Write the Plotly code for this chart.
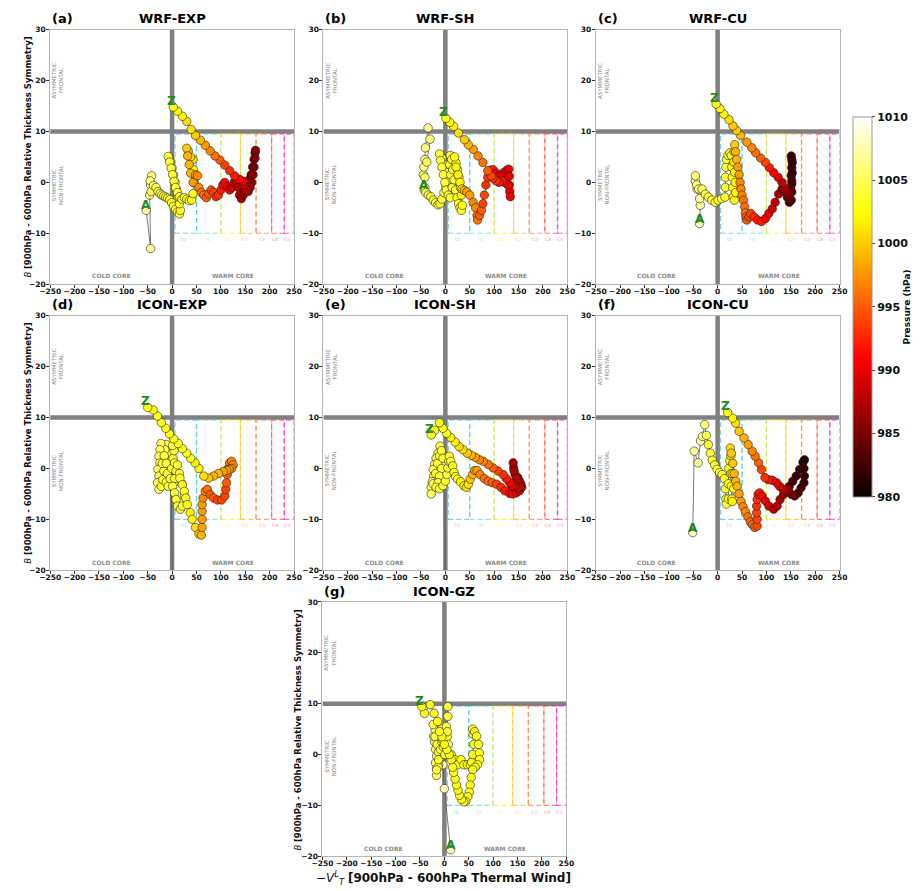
import plotly.graph_objects as go

W, H = 922, 891

# ---------------- data ----------------
PANEL_NAMES = ["WRF-EXP", "WRF-SH", "WRF-CU", "ICON-EXP", "ICON-SH", "ICON-CU", "ICON-GZ"]
PANEL_TAGS = ["(a)", "(b)", "(c)", "(d)", "(e)", "(f)", "(g)"]

X_TICKS = [-250, -200, -150, -100, -50, 0, 50, 100, 150, 200, 250]
Y_TICKS = [-20, -10, 0, 10, 20, 30]
P_TICKS = [980, 985, 990, 995, 1000, 1005, 1010]

BOX_NAMES = ["TD", "TS", "C1", "C2", "C3", "C4", "C5"]
BOX_EDGES = [6, 50, 100, 140, 172, 204, 230, 250]
BOX_LABEL_X = [23, 70, 115, 150, 184, 210, 235]

WRF_EXP_X = [-53, -44, -46, -44, -42, -45, -43, -38, -33, -29,
             -25, -21, -17, -13, -9, -5, -1, 3, 7, 11, 15,
             17,
             15, 12, 9, 6, 3, 0, -3, -6, -8,
             -5, -2, 1, 4, 7, 11,
             15, 20, 25, 30, 35, 40,
             43, 44, 44, 43, 38, 33, 30, 32, 35, 38, 43,
             48, 52, 55, 60, 65, 70, 75, 80, 85, 90, 95,
             100, 104, 108, 113, 118, 123, 127, 132, 136, 138, 142, 146, 150, 154, 158, 162, 165, 168, 170, 171,
             170, 168, 166, 163, 160, 156, 152, 148, 146,
             138, 128, 118, 108, 98, 88, 78, 68, 58, 48, 39, 30, 21, 11, 2.5]
WRF_EXP_Y = [-5.5, -13, -2.5, -0.5, 1.3, 0.3, -1.8, -0.6, -1, -1.8,
             -2.2, -2.5, -2.7, -2.9, -3.1, -3.4, -4, -4.7, -5.3, -5.8, -6.2,
             -5.5,
             -4.2, -2.8, -1.4, 0, 1.4, 2.8, 4, 4.8, 5.1,
             4, 2.8, 1.5, 0.2, -1, -2,
             -2.8, -3.3, -3, -3.3, -3.6, -3.5,
             -2.2, 0, 2.5, 4.5, 5, 6.2, 6.7, 5.2, 3.5, 1.8, 0,
             1.5, 1.3, -1, -2, -2.5, -3, -2.2, -1.5, -2, -2.8, -2.5,
             -1.5, -0.5, 0, -0.8, -1.5, -1, 0, 0.2, -1, -2.5, -3.2, -2.5, -1.5, -0.5, 0.5, 1.5, 3, 4.5, 5.8, 6.3,
             4.8, 3, 1.5, 0, -1, -1.8, -1.5, -0.5, 0.2,
             0.6, 1.3, 2.3, 3.4, 4.4, 5.2, 6.2, 7.3, 8.3, 9.2, 10.4, 12, 13, 14, 14.8]
WRF_EXP_P = [1007, 1007, 1006, 1006, 1006, 1006, 1005, 1005, 1005, 1004,
             1004, 1004, 1004, 1004, 1004, 1004, 1004, 1004, 1004, 1004, 1004,
             1004,
             1004, 1004, 1004, 1004, 1004, 1004, 1004, 1004, 1004,
             1004, 1004, 1004, 1004, 1004, 1004,
             1003, 1003, 1003, 1003, 1003, 1003,
             1003, 1002, 1002, 1001, 1001, 1000, 1000, 999, 999, 999, 998,
             998, 997, 997, 996, 996, 995, 995, 994, 994, 993, 993,
             992, 991, 991, 990, 990, 989, 989, 988, 988, 987, 987, 986, 986, 986, 985, 985, 985, 985, 985, 985,
             985, 985, 986, 986, 987, 987, 988, 989, 990,
             991, 992, 993, 994, 995, 996, 997, 998, 999, 1000, 1001, 1001, 1002, 1002, 1003]

WRF_SH_X = [-43, -45, -44, -42, -41, -35.5, -31.5, -38, -42, -42,
            -40, -35, -30, -25, -20, -15, -11, -7, -3, 1,
            4, 1, -3, -7, -12, -10, -7, -4, -1, 2,
            6, 10, 14, 11, 9, 10, 13, 15, 18, 21,
            24, 27, 30, 33, 35, 33, 31, 28, 25, 22,
            19, 22, 26, 30, 34, 39, 44, 50, 57, 62,
            65, 66, 70, 74, 77, 80, 83, 87, 92, 98,
            104, 110, 116, 121, 126, 130, 131, 131, 132, 133,
            128, 122, 116, 110, 104, 98, 94, 87, 77, 67,
            57, 47, 39, 27, 17, 9, 1]
WRF_SH_Y = [-1.5, 1.5, 3, 4.5, 6.8, 10.7, 8.5, 4, 1, -1,
            -2, -2.5, -2.8, -3.5, -4, -4.4, -4.2, -3.3, -2, -0.8,
            0.3, 2, 3.5, 4.8, 5.6, 4.3, 3, 1.5, 0, -1.5,
            -2.5, -3, -1, 1.5, 3.5, 5.3, 4.5, 2.5, 0.5, -1.5,
            -3, -4.2, -5, -5.5, -4.5, -2.5, -1, 1, 2.5, 3.8,
            5, 3, 1.5, 0, -1.3, -1.6, -1.9, -2.5, -3.9, -5,
            -6.5, -7.4, -6.5, -5.5, -4.2, -2.5, -0.5, 1, 2.4, 2.5,
            1.8, 1.2, 1.6, 2, 2.4, 2.6, 1.2, -0.5, -1.8, -2.8,
            -0.5, 0, 0.3, 0, 0.3, 0.8, 1.3, 2.3, 3.9, 5.2,
            6.5, 7.4, 8.4, 9.7, 11, 11.8, 12.6]
WRF_SH_P = [1006, 1006, 1006, 1006, 1006, 1007, 1006, 1005, 1005, 1005,
            1005, 1005, 1004, 1004, 1004, 1004, 1004, 1004, 1004, 1004,
            1004, 1004, 1004, 1004, 1004, 1004, 1004, 1004, 1004, 1004,
            1004, 1004, 1004, 1004, 1004, 1004, 1004, 1004, 1004, 1004,
            1003, 1003, 1003, 1003, 1003, 1003, 1003, 1003, 1003, 1003,
            1003, 1002, 1002, 1002, 1000, 999, 998, 998, 997, 997,
            996, 996, 995, 995, 994, 994, 993, 993, 992, 992,
            991, 991, 991, 990, 990, 990, 990, 990, 990, 990,
            991, 991, 992, 992, 993, 993, 994, 995, 996, 997,
            998, 999, 1000, 1001, 1002, 1002, 1003]

WRF_CU_X = [-37, -35.5, -37, -42, -45.5, -45.5, -43, -39, -32, -25,
            -19, -12, -5, 1, 8, 15, 16, 16, 17, 18,
            21, 25, 28, 29, 30, 31, 32, 34, 37, 36,
            35, 33, 34, 35, 37, 39, 41.5, 44, 46, 48,
            50, 53, 55.5, 57, 58, 60, 64, 68, 75, 82,
            90, 98, 105, 112, 118, 125, 132, 138.5, 143, 147,
            151, 152, 152, 151, 152, 152, 151, 153, 153, 152,
            150, 147, 143, 138, 132, 124, 115, 106, 98, 88,
            78, 70, 60, 47, 39, 31.5, 23.4, 12.7, 4.7, -3]
WRF_CU_Y = [-8.1, -4.5, -3.2, -1.3, 0.3, 1.3, -0.5, -1.3, -1.3, -2.3,
            -2.9, -3.5, -3.9, -3.5, -3.2, -2.9, -1, 1, 3, 4.5,
            5.3, 5.8, 5.3, 3, 1, -1, -2.8, -3.5, -2, 0,
            2, 4, 6, 7.4, 6, 4.5, 3, 1.5, 0, -1.3,
            -2.5, -3.5, -4.8, -6, -6.8, -7.4, -6.8, -6.1, -6.8, -7.4,
            -7.7, -7.1, -6.1, -5.2, -3.9, -2.3, -1.3, -1.9, -2.9, -3.9,
            -3.5, -1.9, -0.3, 1.3, 2.9, 4.5, 5.2, 3.9, 1.9, 0.3,
            -1.3, -2.6, -2, -1.2, 0, 1, 1.9, 2.9, 3.9, 4.8,
            5.8, 6.8, 7.9, 9.2, 10.2, 11.1, 12.3, 13.4, 14.5, 15.4]
WRF_CU_P = [1008, 1007, 1007, 1007, 1007, 1006, 1006, 1006, 1005, 1005,
            1004, 1004, 1004, 1004, 1004, 1004, 1004, 1004, 1004, 1004,
            1004, 1004, 1003, 1003, 1003, 1003, 1003, 1003, 1002, 1002,
            1002, 1001, 1001, 1000, 999, 999, 998, 998, 997, 997,
            997, 996, 996, 996, 995, 995, 994, 994, 993, 992,
            992, 991, 990, 989, 988, 987, 986, 985, 984, 983,
            983, 982, 982, 982, 982, 982, 982, 982, 982, 983,
            984, 985, 986, 987, 988, 990, 991, 992, 994, 995,
            996, 997, 998, 999, 1000, 1000, 1001, 1002, 1002, 1003]

ICON_EXP_X = [2, -2, -5, -7, -10, -12, -15, -19, -23, -25,
              -27, -25, -29, -27, -30, -27, -22, -19, -17, -20,
              -16, -12, -10, -12, -8, -4, -1, 2, 4, 1,
              5, 8, 5, 1, 5, 8, 11, 17, 21, 25,
              20, 15, 11, 16, 21, 25, 28, 31, 37, 41,
              48, 55, 60, 61.5, 61.5, 61.5, 61.5, 63.5, 68, 72,
              78, 85, 93, 101.6, 108, 110, 111.6, 113, 115, 118,
              122, 125, 122, 117, 112, 105, 95, 85, 75, 65,
              55, 47, 38, 30, 21, 12.7, 3.3, -5.3, -13, -22,
              -30, -39, -50]
ICON_EXP_Y = [-30, -3, -0.2, 1.4, 3, 4.7, 3.7, 2, 4.9, 3.7,
              2.4, 1.1, -0.2, -1.5, -2.8, -4.1, -3.5, -2.2, -0.5, 1,
              2.5, 1, -1, -2.7, -3.5, -2, 0, 2, 3.5, 4.5,
              1.1, -0.5, -2, -3.5, -4.8, -6.1, -7.4, -8, -7.4, -5.4,
              -3, -1, 0.7, -1.9, -3.2, -4.5, -5.8, -7.1, -8.7, -10,
              -11.6, -12.9, -13.1, -11.6, -10, -8.4, -7.1, -5.8, -4.5, -4.1,
              -5.1, -5.8, -6.2, -6.2, -5.4, -4.1, -2.8, -1.2, 0, 1.1,
              1.4, 0.7, 0, -0.2, -0.4, -0.6, -1, -1.5, -1.9, -1.5,
              0, 1.1, 2, 3, 3.9, 4.9, 5.8, 6.8, 7.9, 9,
              10.3, 11.5, 12]
ICON_EXP_P = [1008, 1006, 1005, 1005, 1005, 1005, 1005, 1005, 1005, 1005,
              1005, 1005, 1005, 1005, 1005, 1005, 1004, 1004, 1004, 1004,
              1004, 1004, 1004, 1004, 1004, 1004, 1004, 1004, 1004, 1004,
              1004, 1004, 1004, 1004, 1004, 1004, 1004, 1004, 1004, 1004,
              1004, 1004, 1004, 1004, 1003, 1003, 1003, 1003, 1002, 1002,
              1001, 1000, 999, 998, 998, 998, 998, 997, 997, 996,
              995, 995, 994, 994, 994, 994, 995, 995, 996, 996,
              997, 997, 997, 998, 998, 998, 999, 999, 1000, 1001,
              1002, 1002, 1003, 1003, 1003, 1003, 1003, 1003, 1003, 1003,
              1003, 1003, 1003]

ICON_SH_X = [1, -2, -5, -9, -11, -15, -19, -22, -25, -24,
             -27, -29, -29, -25, -20, -16, -12, -8, -5, -8,
             -12, -15, -19, -12, -5, 0, 3, 5, 7, 8,
             11, 15, 18, 21, 25, 31, 38, 43, 47, 51,
             56, 60, 65, 71, 80, 88, 96, 105, 114, 122,
             132, 138, 145, 152, 156.6, 155, 152, 148.6, 143, 140,
             139, 141, 145, 150, 153, 148, 142, 136.5, 132, 125,
             118.5, 108, 98, 88, 78, 70, 61.6, 53.5, 45, 36,
             28, 20, 11, 2.7, -5, -12, -22, -29]
ICON_SH_Y = [-28, 2.4, 1, 3, 4.4, 3, 2, 0.8, -0.2, -1.5,
             -2.6, -3.7, -5, -3, -1, 1, 2.5, 3.5, 2, 0,
             -1.5, -2.8, -3.7, -4, -3.4, -2.5, -1.2, 0.1, 1.4, 2.4,
             1.4, 0.5, -0.8, -1.6, -2.1, -2.6, -3.4, -3.7, -3.1, -2.1,
             -1.2, -0.4, -0.4, -1.2, -2, -2.5, -2.8, -3.1, -3.7, -4.4,
             -4.9, -5, -4.8, -4.4, -3.7, -3.1, -2.5, -1.8, -1.2, 0.1,
             1.1, -0.5, -2, -3, -3.6, -3.8, -3.5, -3.4, -2.8, -2,
             -1.2, -0.5, 0.1, 0.8, 1.4, 1.7, 2.2, 2.6, 3, 3.7,
             4.3, 5.2, 6.1, 6.9, 7.9, 9, 7.5, 6.6]
ICON_SH_P = [1008, 1007, 1006, 1005, 1005, 1005, 1005, 1005, 1005, 1005,
             1005, 1005, 1005, 1005, 1004, 1004, 1004, 1004, 1004, 1004,
             1004, 1004, 1004, 1004, 1004, 1004, 1004, 1004, 1004, 1004,
             1004, 1003, 1003, 1003, 1003, 1002, 1002, 1001, 1001, 1000,
             999, 998, 998, 997, 996, 996, 995, 994, 993, 992,
             991, 991, 990, 989, 988, 988, 987, 987, 987, 987,
             987, 987, 988, 988, 988, 989, 989, 990, 991, 992,
             993, 994, 995, 996, 997, 997, 998, 999, 1000, 1001,
             1001, 1002, 1002, 1003, 1003, 1003, 1003, 1003]

ICON_CU_X = [-51, -48, -40, -35, -31, -26.5, -23, -19, -15, -11,
             -6, -1, 4, 9, 14, 16, 17, 18, 22, 22,
             23, 25, 27, 28, 29, 30, 33, 30, 27, 26,
             28, 31, 34, 37, 40, 44, 48, 52, 57, 62,
             67, 71, 76, 81, 81, 80, 80, 81, 83, 86,
             91, 98, 105, 115, 122, 128, 135, 142, 147, 154,
             161, 168, 175, 178, 177, 178, 177, 171, 165, 158,
             151.5, 145, 140, 134, 127, 121, 112, 104, 97, 90,
             84, 77, 70.6, 62.6, 54, 44, 37, 30.6, 20.7]
ICON_CU_Y = [-12.6, 3.4, 1.1, 5.4, 6.3, 8.6, 6.5, 4.7, 3, 1.6,
             0.7, -0.2, -0.8, -1.2, -2, -4, -6, -7, -6, -3,
             0, 1.5, -1, -3.5, -6, -6.5, -4, -1, 2.5, 4,
             3, 1, -1, -2.5, -3.5, -5, -6.5, -7.5, -8.5, -9.5,
             -10.5, -11, -11.6, -11.3, -10, -8.7, -7.4, -6.1, -5.1, -4.8,
             -5.4, -6.4, -7.4, -8, -7.4, -6.1, -5.1, -4.4, -3.5, -2.5,
             -1.5, -0.2, 1.2, 1.7, 0, -1.5, -2.8, -3.8, -4.8, -5.4,
             -5.1, -4.3, -4.2, -4.1, -3.5, -2.8, -2.3, -2.2, -1.8, -0.2,
             1.1, 2.4, 3.4, 4.7, 6, 7.3, 8.9, 9.9, 11]
ICON_CU_P = [1008, 1007, 1007, 1007, 1007, 1006, 1005, 1004, 1004, 1004,
             1004, 1004, 1004, 1004, 1004, 1004, 1004, 1004, 1003, 1003,
             1003, 1003, 1003, 1003, 1002, 1002, 1002, 1002, 1001, 1001,
             1000, 1000, 999, 999, 999, 998, 998, 997, 997, 996,
             996, 995, 995, 994, 994, 994, 993, 993, 992, 992,
             991, 990, 989, 988, 988, 987, 986, 985, 984, 983,
             982, 982, 981, 981, 982, 982, 982, 983, 983, 984,
             985, 986, 987, 988, 989, 990, 991, 992, 993, 994,
             995, 996, 997, 998, 999, 1000, 1001, 1002, 1003]

ICON_GZ_X = [12.7, 0, -3, -8, -12, -16, -16, -18, -16, -18,
             -20, -22, -19, -23, -19, -15, -12, -10, -13, -16,
             -12, -8, -5, -3, -6, -4, -2, 1, 4, 6,
             4, 7, 7, 6, 8, 14, 21, 27, 34, 40,
             47, 53, 56, 58, 60, 59, 58, 62, 66, 70,
             72, 72, 68, 63, 58, 55, 53, 51, 48, 44,
             40, 35, 31, 28, 25, 22, 19, 17, 14, 10,
             5, 0, -5, -10, -14, -21, -29, -41, -46]
ICON_GZ_Y = [-18.7, -6.7, -2, 0, -2, -4.1, -2.8, -1.6, -0.3, 1,
             2.5, 3.6, 4.9, 5.9, 3.5, 2, 0.5, -1, -2.5, -3,
             -1, 1, 2.5, 4.2, 5, 3, 1.5, 0, 1.5, 3.5,
             5.5, 7.5, 9.4, 4.5, 2, 0, -1, -2, -1, -2,
             -2, -2, -1.5, 0, 2, 4, 5, 4.5, 3.6, 2,
             0.3, -1, -2, -2.5, -3, -4.5, -6, -7.4, -8.3, -9.2,
             -9.3, -8.8, -8, -7, -6, -4.8, -3.5, -2.5, -1, 0,
             1, 2, 3.5, 4.5, 6.5, 8.1, 9.8, 8.1, 9.4]
ICON_GZ_P = [1008, 1008, 1007, 1006, 1006, 1005, 1005, 1005, 1005, 1005,
             1005, 1005, 1005, 1005, 1005, 1004, 1004, 1004, 1004, 1004,
             1004, 1004, 1004, 1004, 1004, 1004, 1004, 1004, 1004, 1004,
             1004, 1004, 1004, 1004, 1004, 1004, 1003, 1003, 1003, 1003,
             1003, 1003, 1003, 1003, 1003, 1003, 1003, 1003, 1003, 1003,
             1003, 1003, 1003, 1003, 1003, 1003, 1003, 1003, 1003, 1003,
             1003, 1003, 1003, 1003, 1003, 1003, 1003, 1003, 1003, 1003,
             1003, 1003, 1003, 1003, 1003, 1003, 1003, 1003, 1003]

PANEL_DATA = [
    (WRF_EXP_X, WRF_EXP_Y, WRF_EXP_P),
    (WRF_SH_X, WRF_SH_Y, WRF_SH_P),
    (WRF_CU_X, WRF_CU_Y, WRF_CU_P),
    (ICON_EXP_X, ICON_EXP_Y, ICON_EXP_P),
    (ICON_SH_X, ICON_SH_Y, ICON_SH_P),
    (ICON_CU_X, ICON_CU_Y, ICON_CU_P),
    (ICON_GZ_X, ICON_GZ_Y, ICON_GZ_P),
]
for name, (xs, ys, ps) in zip(PANEL_NAMES, PANEL_DATA):
    assert len(xs) == len(ys) == len(ps), (name, len(xs), len(ys), len(ps))

# ---------------- layout / style ----------------
PW, PH = 249, 257
PANEL_ORIGINS = [(40, 26), (319, 26), (597, 26), (40, 315), (319, 315), (597, 315), (318, 604)]
BOX_COLORS = ["rgba(40,160,240,0.55)", "rgba(60,225,170,0.6)", "rgba(255,235,0,0.65)",
              "rgba(255,165,0,0.6)", "rgba(255,100,70,0.6)", "rgba(255,40,40,0.6)",
              "rgba(255,0,255,0.6)"]
HOT = [[0.0, "rgb(10,0,0)"], [0.365, "rgb(255,0,0)"], [0.746, "rgb(255,255,0)"], [1.0, "rgb(255,255,255)"]]
FONT = "DejaVu Sans"
GRAY_TXT = "#8c8c8c"

fig = go.Figure()
layout = {}
shapes = []
annotations = []

for i, (xs, ys, ps) in enumerate(PANEL_DATA):
    sfx = "" if i == 0 else str(i + 1)
    xa, ya = "x" + sfx, "y" + sfx
    ox, oy = PANEL_ORIGINS[i]
    layout["xaxis" + sfx] = dict(
        domain=[ox / W, (ox + PW) / W], range=[-250, 250], anchor=ya,
        tickvals=X_TICKS, ticks="outside", ticklen=3, tickwidth=1, tickcolor="#333",
        ticklabelstandoff=-3,
        tickfont=dict(family=FONT, size=7.5, color="#111", weight="bold"),
        showline=True, mirror=True, linecolor="#b5b5b5", linewidth=1,
        showgrid=False, zeroline=False, fixedrange=True)
    layout["yaxis" + sfx] = dict(
        domain=[1 - (oy + PH) / H, 1 - oy / H], range=[-20, 30], anchor=xa,
        tickvals=Y_TICKS, ticks="outside", ticklen=3, tickwidth=1, tickcolor="#333",
        ticklabelstandoff=-1,
        tickfont=dict(family=FONT, size=7.5, color="#111", weight="bold"),
        showline=True, mirror=True, linecolor="#b5b5b5", linewidth=1,
        showgrid=False, zeroline=False, fixedrange=True)

    # thick quadrant lines
    shapes.append(dict(type="line", xref=xa, yref=ya, x0=0, x1=0, y0=-20, y1=30,
                       line=dict(color="rgb(128,128,128)", width=4.5), layer="below"))
    shapes.append(dict(type="line", xref=xa, yref=ya, x0=-250, x1=250, y0=10, y1=10,
                       line=dict(color="rgb(128,128,128)", width=4.5), layer="below"))
    # intensity boxes
    for b in range(len(BOX_NAMES)):
        shapes.append(dict(type="rect", xref=xa, yref=ya,
                           x0=BOX_EDGES[b], x1=BOX_EDGES[b + 1], y0=-10, y1=9.5,
                           line=dict(color=BOX_COLORS[b], width=1.2, dash="5px,3px"),
                           fillcolor="rgba(0,0,0,0)", layer="below"))
        annotations.append(dict(xref=xa, yref=ya, x=BOX_LABEL_X[b], y=-11.3, text=BOX_NAMES[b],
                                showarrow=False, font=dict(family=FONT, size=4.5, color=BOX_COLORS[b])))
    # quadrant labels
    annotations.append(dict(xref=xa, yref=ya, x=-234, y=20, text="ASYMMETRIC<br>FRONTAL",
                            textangle=-90, showarrow=False,
                            font=dict(family=FONT, size=5.5, color=GRAY_TXT)))
    annotations.append(dict(xref=xa, yref=ya, x=-234, y=-0.3, text="SYMMETRIC<br>NON-FRONTAL",
                            textangle=-90, showarrow=False,
                            font=dict(family=FONT, size=5.5, color=GRAY_TXT)))
    annotations.append(dict(xref=xa, yref=ya, x=-125, y=-18.4, text="COLD CORE", showarrow=False,
                            font=dict(family=FONT, size=6, color=GRAY_TXT, weight="bold")))
    annotations.append(dict(xref=xa, yref=ya, x=125, y=-18.4, text="WARM CORE", showarrow=False,
                            font=dict(family=FONT, size=6, color=GRAY_TXT, weight="bold")))
    # titles
    annotations.append(dict(xref="paper", yref="paper", x=(ox + PW / 2) / W, y=1 - (oy - 11) / H,
                            text="<b>%s</b>" % PANEL_NAMES[i], showarrow=False,
                            xanchor="center", yanchor="middle",
                            font=dict(family=FONT, size=13, color="#000")))
    annotations.append(dict(xref="paper", yref="paper", x=ox / W, y=1 - (oy - 11) / H,
                            text="<b>%s</b>" % PANEL_TAGS[i], showarrow=False,
                            xanchor="left", yanchor="middle",
                            font=dict(family=FONT, size=13, color="#000")))

    # trajectory
    fig.add_trace(go.Scatter(
        x=xs, y=ys, xaxis=xa, yaxis=ya, mode="lines+markers", showlegend=False,
        line=dict(color="#555555", width=0.8),
        marker=dict(size=8.5, color=ps, colorscale=HOT, cmin=980, cmax=1010,
                    line=dict(color="#222222", width=0.6),
                    showscale=(i == 0),
                    colorbar=dict(x=860 / W, xanchor="left", y=1 - 306 / H, yanchor="middle",
                                  xpad=0, ypad=0,
                                  len=384 / H, lenmode="fraction", thickness=19,
                                  thicknessmode="pixels", outlinecolor="#999", outlinewidth=1,
                                  tickvals=P_TICKS, ticks="outside", ticklen=3,
                                  tickfont=dict(family=FONT, size=11, color="#111", weight="bold"),
                                  title=dict(text="<b>Pressure (hPa)</b>", side="right",
                                             font=dict(family=FONT, size=9, color="#111"))))))
    # start / end labels
    if -20 <= ys[0] <= 30:
        annotations.append(dict(xref=xa, yref=ya, x=xs[0], y=ys[0], text="<b>A</b>", showarrow=False,
                                yshift=5, font=dict(family=FONT, size=12, color="#1f8a1f")))
    if -20 <= ys[-1] <= 30:
        annotations.append(dict(xref=xa, yref=ya, x=xs[-1], y=ys[-1], text="<b>Z</b>", showarrow=False,
                                xshift=-2, yshift=6, font=dict(family=FONT, size=12, color="#1f8a1f")))

# axis titles
YTITLE = "<i>B</i> <b>[900hPa - 600hPa Relative Thickness Symmetry]</b>"
for (xp, yc) in [(17, 154.5), (17, 443.5), (293, 733)]:
    annotations.append(dict(xref="paper", yref="paper", x=xp / W, y=1 - yc / H, text=YTITLE,
                            textangle=-90, showarrow=False, xanchor="center", yanchor="middle",
                            font=dict(family=FONT, size=8.5, color="#111")))
annotations.append(dict(xref="paper", yref="paper", x=442 / W, y=1 - 883 / H,
                        text="−<i>V</i><sup><i>L</i></sup><sub><i>T</i></sub> <b>[900hPa - 600hPa Thermal Wind]</b>",
                        showarrow=False, xanchor="center", yanchor="middle",
                        font=dict(family=FONT, size=12, color="#111")))

fig.update_layout(width=W, height=H, margin=dict(l=0, r=0, t=0, b=0),
                  paper_bgcolor="white", plot_bgcolor="white",
                  shapes=shapes, annotations=annotations, **layout)

fig.write_html("out.html")
